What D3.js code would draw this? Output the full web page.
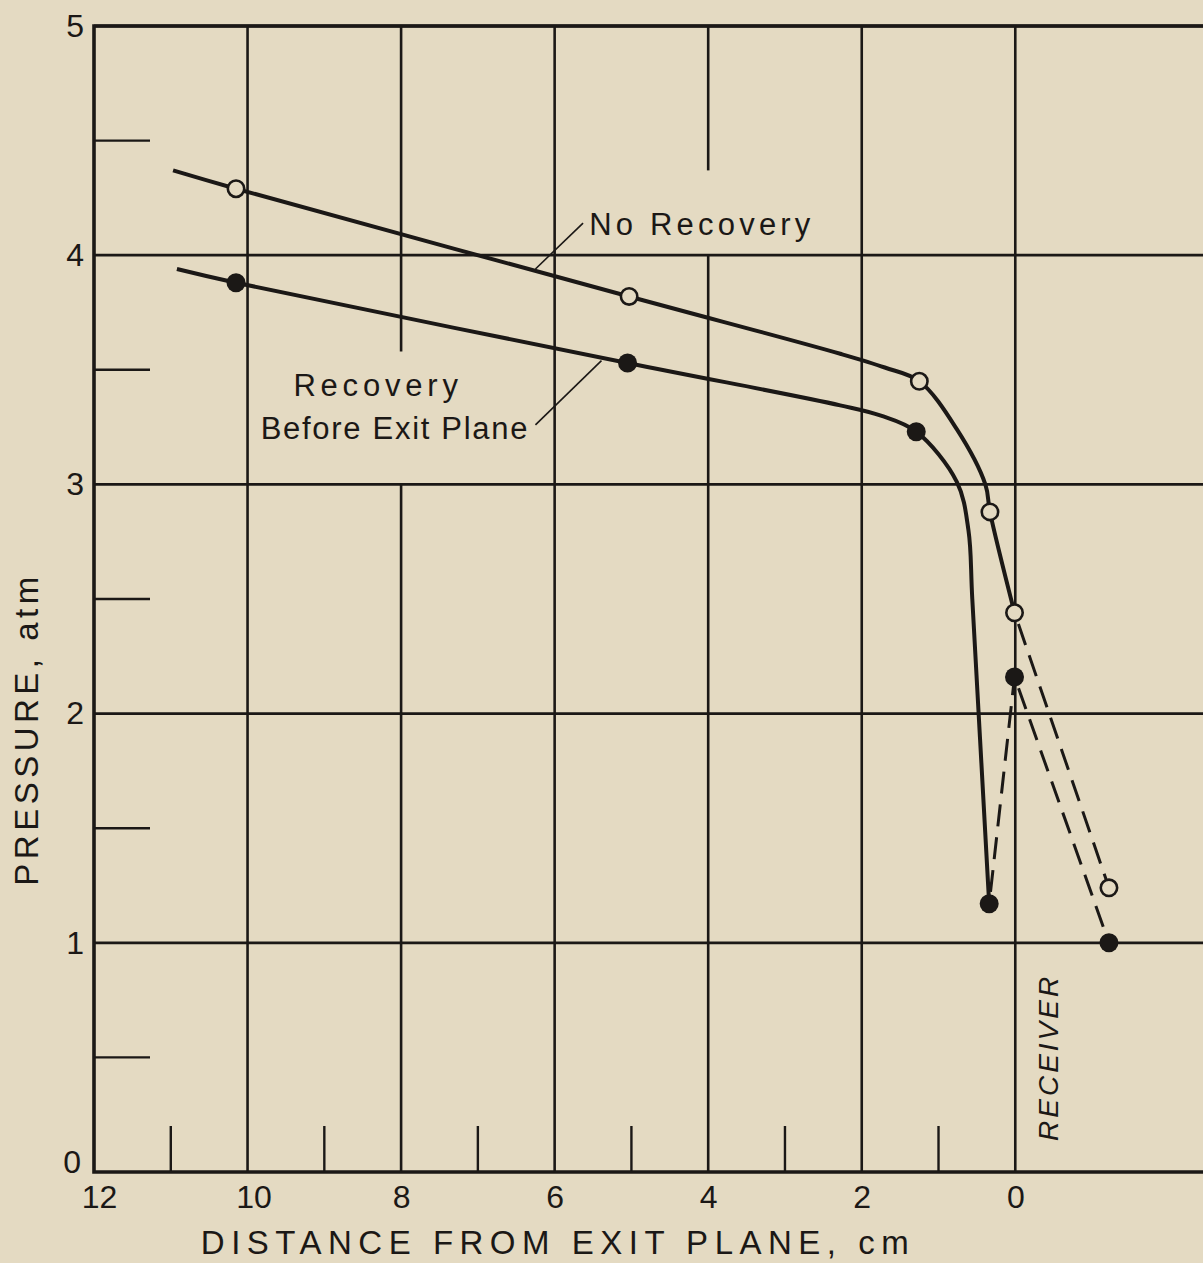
<!DOCTYPE html>
<html>
<head>
<meta charset="utf-8">
<script src="https://cdn.jsdelivr.net/npm/d3@7"></script>
<style>
  body { margin: 0; background: #e4dac2; }
  svg { display: block; }
  text { font-family: "Liberation Sans", Arial, sans-serif; fill: #1b1816; }
</style>
</head>
<body>
<div id="wrapper"></div>
<script>
// ticks
const xMajorTicks = [12, 10, 8, 6, 4, 2, 0]
const xMinorTicks = [11, 9, 7, 5, 3, 1]
const yMajorTicks = [0, 1, 2, 3, 4, 5]
const yMinorTicks = [0.5, 1.5, 2.5, 3.5, 4.5]

// measured points (distance cm, pressure atm)
const noRecoveryX = [10.15, 5.03, 1.25, 0.33, 0.01, -1.22]
const noRecoveryY = [4.29, 3.82, 3.45, 2.88, 2.44, 1.24]
const recoveryX = [10.15, 5.05, 1.29, 0.34, 0.01, -1.22]
const recoveryY = [3.88, 3.53, 3.23, 1.17, 2.16, 1.0]

// faired solid curves as drawn on the figure
const noRecoveryCurveX = [10.97, 10.15, 5.03, 2.28, 1.7, 1.25, 0.76, 0.39, 0.33, 0.01]
const noRecoveryCurveY = [4.37, 4.29, 3.82, 3.57, 3.51, 3.45, 3.24, 3.0, 2.88, 2.44]
const recoveryCurveX = [10.92, 10.15, 5.05, 2.28, 1.75, 1.29, 0.76, 0.61, 0.56, 0.35, 0.34]
const recoveryCurveY = [3.94, 3.88, 3.53, 3.345, 3.30, 3.23, 3.01, 2.80, 2.50, 1.23, 1.17]

// dashed links between measured points (indexes into the point arrays)
const noRecoveryDashed = [[4, 5]]
const recoveryDashed = [[3, 4], [4, 5]]

const zip = (xs, ys) => xs.map((x, i) => ({ x, y: ys[i] }))

function drawChart() {
  const ink = "#1b1816"
  const bg = "#e4dac2"

  const dimensions = {
    width: 1203,
    height: 1263,
    margin: { top: 26, right: 0, bottom: 91, left: 94 },
  }
  dimensions.boundedWidth = dimensions.width - dimensions.margin.left - dimensions.margin.right
  dimensions.boundedHeight = dimensions.height - dimensions.margin.top - dimensions.margin.bottom

  const svg = d3.select("#wrapper").append("svg")
      .attr("width", dimensions.width)
      .attr("height", dimensions.height)

  svg.append("rect")
      .attr("width", dimensions.width)
      .attr("height", dimensions.height)
      .attr("fill", bg)

  const bounds = svg.append("g")
      .attr("transform", `translate(${dimensions.margin.left},${dimensions.margin.top})`)

  const xScale = d3.scaleLinear()
    .domain([12, -2.445])
    .range([0, dimensions.boundedWidth])

  const yScale = d3.scaleLinear()
    .domain([0, 5])
    .range([dimensions.boundedHeight, 0])

  // grid: gaps left where the labels sit
  const gridGaps = { 8: [3.0, 3.58], 4: [4.0, 4.37] }
  const vSegments = []
  xMajorTicks.filter(d => d !== 12).forEach(x => {
    const gap = gridGaps[x]
    if (gap) {
      vSegments.push({ x, y0: 0, y1: gap[0] })
      vSegments.push({ x, y0: gap[1], y1: 5 })
    } else {
      vSegments.push({ x, y0: 0, y1: 5 })
    }
  })

  bounds.append("g").selectAll("line")
    .data(vSegments)
    .join("line")
      .attr("x1", d => xScale(d.x))
      .attr("x2", d => xScale(d.x))
      .attr("y1", d => yScale(d.y0))
      .attr("y2", d => yScale(d.y1))
      .attr("stroke", ink)
      .attr("stroke-width", 2.6)

  bounds.append("g").selectAll("line")
    .data(yMajorTicks.filter(d => d > 0))
    .join("line")
      .attr("x1", 0)
      .attr("x2", dimensions.boundedWidth)
      .attr("y1", d => yScale(d))
      .attr("y2", d => yScale(d))
      .attr("stroke", ink)
      .attr("stroke-width", 2.8)

  // minor ticks
  bounds.append("g").selectAll("line")
    .data(yMinorTicks)
    .join("line")
      .attr("x1", 0)
      .attr("x2", 56)
      .attr("y1", d => yScale(d))
      .attr("y2", d => yScale(d))
      .attr("stroke", ink)
      .attr("stroke-width", 2.4)

  bounds.append("g").selectAll("line")
    .data(xMinorTicks)
    .join("line")
      .attr("x1", d => xScale(d))
      .attr("x2", d => xScale(d))
      .attr("y1", dimensions.boundedHeight)
      .attr("y2", dimensions.boundedHeight - 46)
      .attr("stroke", ink)
      .attr("stroke-width", 2.4)

  // axes frame
  bounds.append("path")
      .attr("d", `M${dimensions.boundedWidth},0H0V${dimensions.boundedHeight}H${dimensions.boundedWidth}`)
      .attr("fill", "none")
      .attr("stroke", ink)
      .attr("stroke-width", 3.6)

  // tick labels
  const xAxis = bounds.append("g")
      .attr("transform", `translate(0,${dimensions.boundedHeight})`)
    .call(d3.axisBottom(xScale).tickValues(xMajorTicks).tickSize(0).tickPadding(13).tickFormat(d3.format("d")))
  xAxis.select(".domain").remove()
  xAxis.selectAll("text")
      .attr("font-size", 32)
      .attr("fill", ink)
      .attr("dx", d => d === 12 ? 5 : d === 10 ? 6 : 0)
      .style("font-family", "\"Liberation Sans\", Arial, sans-serif")

  const yAxis = bounds.append("g")
    .call(d3.axisLeft(yScale).tickValues(yMajorTicks).tickSize(0).tickPadding(10).tickFormat(d3.format("d")))
  yAxis.select(".domain").remove()
  yAxis.selectAll("text")
      .attr("font-size", 32)
      .attr("fill", ink)
      .attr("dx", d => d === 0 ? -3 : 0)
      .attr("dy", d => d === 0 ? "0.02em" : "0.32em")
      .style("font-family", "\"Liberation Sans\", Arial, sans-serif")

  // axis titles
  svg.append("text")
      .attr("x", 558)
      .attr("y", 1254)
      .attr("text-anchor", "middle")
      .attr("font-size", 33)
      .attr("letter-spacing", 6.5)
      .text("DISTANCE FROM EXIT PLANE, cm")

  svg.append("text")
      .attr("transform", `translate(38,729) rotate(-90)`)
      .attr("text-anchor", "middle")
      .attr("font-size", 33)
      .attr("letter-spacing", 4.5)
      .text("PRESSURE, atm")

  // curves
  const line = d3.line()
    .x(d => xScale(d.x))
    .y(d => yScale(d.y))

  const smooth = d3.line()
    .x(d => xScale(d.x))
    .y(d => yScale(d.y))
    .curve(d3.curveCatmullRom.alpha(0.5))

  bounds.append("path")
      .attr("d", smooth(zip(noRecoveryCurveX, noRecoveryCurveY)))
      .attr("fill", "none")
      .attr("stroke", ink)
      .attr("stroke-width", 4)

  bounds.append("path")
      .attr("d", smooth(zip(recoveryCurveX, recoveryCurveY)))
      .attr("fill", "none")
      .attr("stroke", ink)
      .attr("stroke-width", 4)

  const noRec = zip(noRecoveryX, noRecoveryY)
  const rec = zip(recoveryX, recoveryY)

  const dashed = noRecoveryDashed.map(([a, b]) => [noRec[a], noRec[b]])
    .concat(recoveryDashed.map(([a, b]) => [rec[a], rec[b]]))

  bounds.append("g").selectAll("path")
    .data(dashed)
    .join("path")
      .attr("d", d => line(d))
      .attr("fill", "none")
      .attr("stroke", ink)
      .attr("stroke-width", 3)
      .attr("stroke-dasharray", "22,11")
      .attr("stroke-dashoffset", -12)

  // markers
  bounds.append("g").selectAll("circle")
    .data(rec)
    .join("circle")
      .attr("cx", d => xScale(d.x))
      .attr("cy", d => yScale(d.y))
      .attr("r", 9.5)
      .attr("fill", ink)

  bounds.append("g").selectAll("circle")
    .data(noRec)
    .join("circle")
      .attr("cx", d => xScale(d.x))
      .attr("cy", d => yScale(d.y))
      .attr("r", 8.2)
      .attr("fill", bg)
      .attr("stroke", ink)
      .attr("stroke-width", 2.6)

  // annotations
  bounds.append("line")
      .attr("x1", xScale(5.63)).attr("y1", yScale(4.14))
      .attr("x2", xScale(6.25)).attr("y2", yScale(3.94))
      .attr("stroke", ink).attr("stroke-width", 1.6)

  bounds.append("text")
      .attr("x", xScale(5.55))
      .attr("y", yScale(4.09))
      .attr("font-size", 31)
      .attr("letter-spacing", 4.2)
      .text("No Recovery")

  bounds.append("line")
      .attr("x1", xScale(6.25)).attr("y1", yScale(3.26))
      .attr("x2", xScale(5.39)).attr("y2", yScale(3.54))
      .attr("stroke", ink).attr("stroke-width", 1.6)

  bounds.append("text")
      .attr("x", xScale(8.3))
      .attr("y", yScale(3.385))
      .attr("text-anchor", "middle")
      .attr("font-size", 31)
      .attr("letter-spacing", 4.8)
      .text("Recovery")

  bounds.append("text")
      .attr("x", xScale(8.08))
      .attr("y", yScale(3.2))
      .attr("text-anchor", "middle")
      .attr("font-size", 31)
      .attr("letter-spacing", 1.7)
      .text("Before Exit Plane")

  bounds.append("text")
      .attr("transform", `translate(${xScale(-0.56)},${yScale(0.5)}) rotate(-90)`)
      .attr("text-anchor", "middle")
      .attr("font-size", 28)
      .attr("font-style", "italic")
      .attr("letter-spacing", 3)
      .text("RECEIVER")
}
drawChart()
</script>
</body>
</html>
